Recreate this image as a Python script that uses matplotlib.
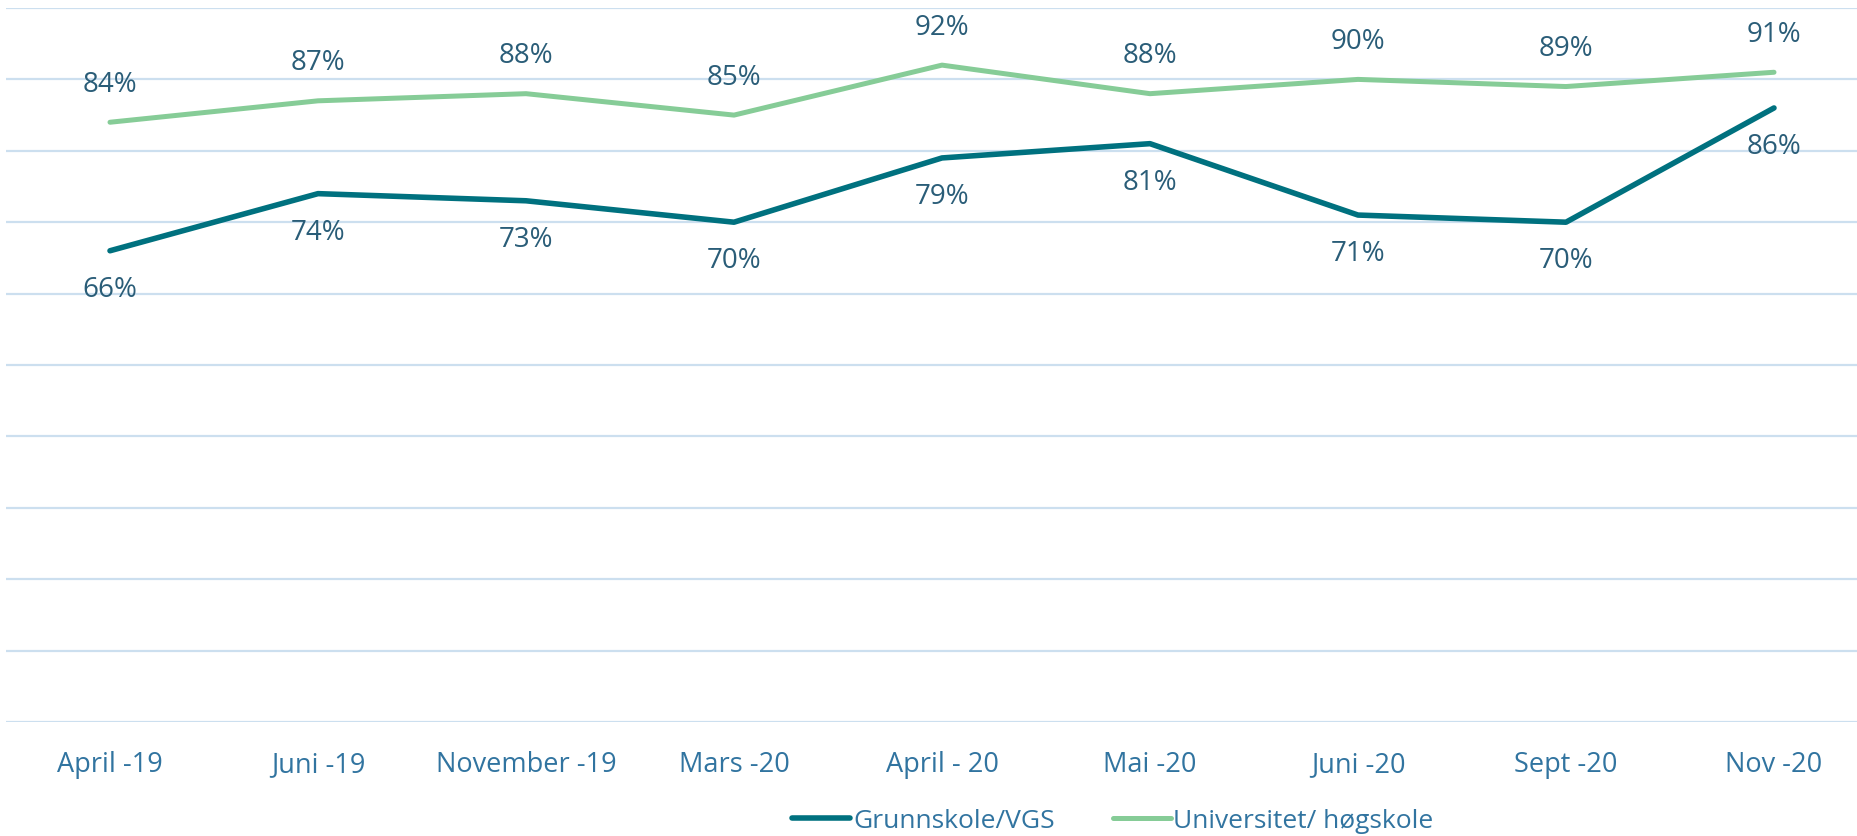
import matplotlib.pyplot as plt

plt.rcParams['font.family'] = ['Open Sans', 'DejaVu Sans']

kategorier = ['April -19', 'Juni -19', 'November -19', 'Mars -20', 'April - 20',
              'Mai -20', 'Juni -20', 'Sept -20', 'Nov -20']
grunnskole = [66, 74, 73, 70, 79, 81, 71, 70, 86]
universitet = [84, 87, 88, 85, 92, 88, 90, 89, 91]

fig = plt.figure(figsize=(18.57, 8.36), dpi=100)
# plot area runs slightly past the right edge, like the original
ax = fig.add_axes([6 / 1857, 1 - 722 / 836, 1872 / 1857, 714 / 836])

x = list(range(len(kategorier)))
l1, = ax.plot(x, grunnskole, color='#00717F', lw=4.0, solid_capstyle='round',
              label='Grunnskole/VGS', zorder=3)
l2, = ax.plot(x, universitet, color='#86CC97', lw=3.6, solid_capstyle='round',
              label='Universitet/ høgskole', zorder=3)

txtcol = '#2A5D78'
for i in x:
    ax.annotate(f'{grunnskole[i]}%', (i, grunnskole[i]), xytext=(0, -28),
                textcoords='offset points', ha='center', va='center',
                fontsize=20, color=txtcol)
    ax.annotate(f'{universitet[i]}%', (i, universitet[i]), xytext=(0, 27),
                textcoords='offset points', ha='center', va='center',
                fontsize=20, color=txtcol)

ax.set_xlim(-0.5, len(kategorier) - 0.5)
ax.set_ylim(0, 100)
ax.set_yticks(range(0, 101, 10))
ax.set_yticklabels([])
ax.tick_params(axis='y', length=0)
ax.grid(axis='y', color='#CCDFEF', lw=1.6)
ax.set_axisbelow(True)
for s in ax.spines.values():
    s.set_visible(False)

ax.set_xticks(x)
ax.set_xticklabels(kategorier, fontsize=19.5, color='#3174A0')
ax.tick_params(axis='x', length=0, pad=21)

fig.legend(handles=[l1, l2], loc='center', bbox_to_anchor=(1113 / 1857, 1 - 821 / 836),
           ncol=2, frameon=False, fontsize=19, labelcolor='#3174A0',
           handlelength=2.2, handletextpad=0.1, columnspacing=2.2)

fig.savefig('out.png', dpi=100)
